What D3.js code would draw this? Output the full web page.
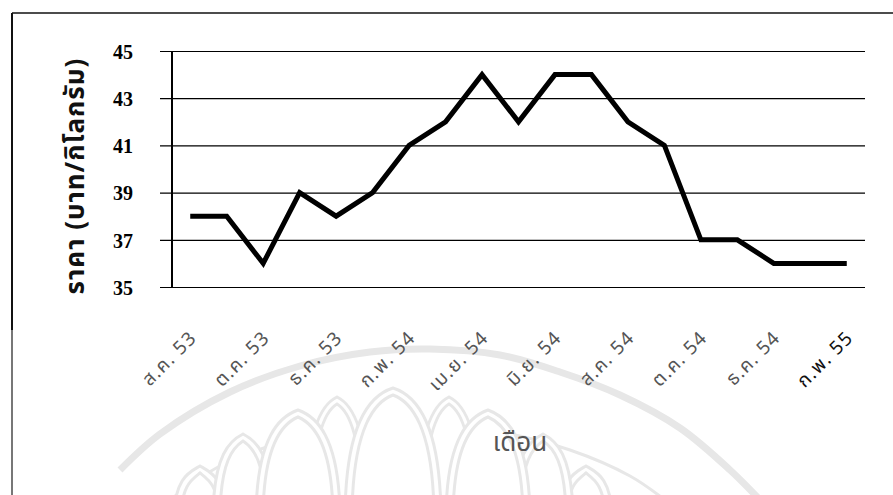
<!DOCTYPE html>
<html>
<head>
<meta charset="utf-8">
<script src="https://cdn.jsdelivr.net/npm/d3@7"></script>
<style>
  body { margin: 0; background: #fff; }
  svg { display: block; }
  .thai { font-family: "Noto Sans Thai", "Noto Sans", "DejaVu Sans", sans-serif; }
</style>
</head>
<body>
<svg id="chart" width="893" height="495"></svg>
<script>
// Monthly price, Aug 2010 (B.E. 2553) to Feb 2012 (B.E. 2555)
const months = [
    "ส.ค. 53", "ก.ย. 53", "ต.ค. 53", "พ.ย. 53", "ธ.ค. 53", "ม.ค. 54", "ก.พ. 54",
    "มี.ค. 54", "เม.ย. 54", "พ.ค. 54", "มิ.ย. 54", "ก.ค. 54", "ส.ค. 54", "ก.ย. 54",
    "ต.ค. 54", "พ.ย. 54", "ธ.ค. 54", "ม.ค. 55", "ก.พ. 55"
];
const prices = [38, 38, 36, 39, 38, 39, 41, 42, 44, 42, 44, 44, 42, 41, 37, 37, 36, 36, 36];
const yTicks = [35, 37, 39, 41, 43, 45];
const yTitle = "ราคา (บาท/กิโลกรัม)";
const xTitle = "เดือน";

const svg = d3.select("#chart");

// plot area
const plotLeft = 172, plotRight = 865, plotTop = 51, plotBottom = 287;

const x = d3.scalePoint()
    .domain(months)
    .range([plotLeft, plotRight])
    .padding(0.5);

const y = d3.scaleLinear()
    .domain([35, 45])
    .range([plotBottom, plotTop]);

// faint watermark (university seal) behind everything
function drawWatermark() {
    const wm = svg.append("g")
        .attr("fill", "none")
        .attr("stroke", "#e7e7e7");

    const arch = d3.line().curve(d3.curveCatmullRom);

    // outer bands
    wm.append("path")
        .attr("stroke-width", 7)
        .attr("d", arch([[120, 470], [160, 434], [230, 392], [300, 366], [370, 352], [430, 349],
                         [500, 355], [560, 372], [620, 395], [680, 428], [730, 470], [760, 500]]));
    wm.append("path")
        .attr("stroke-width", 3)
        .attr("d", arch([[170, 500], [220, 466], [290, 440], [360, 428], [430, 426],
                         [500, 432], [570, 450], [630, 476], [665, 500]]));

    // lotus petals: apex x, apex y, half-width (back petals first)
    const petals = [
        [200, 466, 26], [586, 466, 26],
        [243, 434, 30], [543, 434, 30],
        [337, 397, 32], [449, 397, 32],
        [298, 410, 42], [488, 410, 42],
        [393, 388, 48]
    ];
    petals.forEach(([px, py, w]) => {
        [0, 7].forEach(off => {
            const h = 520 - py;
            const ww = w - off;
            const ay = py + off;
            wm.append("path")
                .attr("stroke-width", 3)
                .attr("fill", off === 0 ? "#fff" : "none")
                .attr("d", `M${px - ww},${py + h} C${px - ww},${ay + h * 0.22} ${px - ww * 0.4},${ay + 6} ${px},${ay}` +
                           ` C${px + ww * 0.4},${ay + 6} ${px + ww},${ay + h * 0.22} ${px + ww},${py + h}`);
        });
    });
}
drawWatermark();

// frame of the figure
svg.append("line")
    .attr("x1", 12).attr("x2", 893).attr("y1", 13).attr("y2", 13)
    .attr("stroke", "#111").attr("stroke-width", 1.5);
svg.append("line")
    .attr("x1", 12).attr("x2", 12).attr("y1", 13).attr("y2", 330)
    .attr("stroke", "#111").attr("stroke-width", 2);
svg.append("line")
    .attr("x1", 12).attr("x2", 12).attr("y1", 330).attr("y2", 495)
    .attr("stroke", "#777").attr("stroke-width", 2);

// horizontal gridlines + y tick labels
const yAxis = svg.append("g")
    .attr("transform", `translate(${plotRight},0)`)
    .call(d3.axisLeft(y)
        .tickValues(yTicks)
        .tickSize(plotRight - 160)
        .tickPadding(27)
        .tickFormat(d3.format("d")));
yAxis.select(".domain").remove();
yAxis.selectAll(".tick line")
    .attr("stroke", "#000")
    .attr("stroke-width", 1.2);
yAxis.selectAll(".tick text")
    .attr("fill", "#000")
    .attr("font-family", "'Liberation Serif', 'Times New Roman', serif")
    .attr("font-weight", "bold")
    .attr("font-size", 20)
    .attr("dy", "0.36em");

// vertical axis line
svg.append("line")
    .attr("x1", plotLeft).attr("x2", plotLeft)
    .attr("y1", y(45)).attr("y2", y(35))
    .attr("stroke", "#000").attr("stroke-width", 2);

// x axis labels, every second month
const xAxis = svg.append("g")
    .attr("transform", `translate(0,${plotBottom})`)
    .call(d3.axisBottom(x)
        .tickSize(0)
        .tickFormat((d, i) => i % 2 === 0 ? d : ""));
xAxis.select(".domain").remove();
xAxis.selectAll(".tick text")
    .attr("class", "thai")
    .attr("x", 0).attr("y", 0).attr("dy", 0)
    .attr("text-anchor", "end")
    .attr("transform", "translate(7,52) rotate(-45)")
    .attr("font-size", 19)
    .attr("letter-spacing", 1.2)
    .attr("fill", (d, i) => i === months.length - 1 ? "#111" : "#555");

// price line
svg.append("path")
    .datum(prices)
    .attr("fill", "none")
    .attr("stroke", "#000")
    .attr("stroke-width", 5)
    .attr("stroke-linejoin", "miter")
    .attr("d", d3.line()
        .x((d, i) => x(months[i]))
        .y(d => y(d)));

// axis titles
svg.append("text")
    .attr("class", "thai")
    .attr("transform", "translate(84,176) rotate(-90)")
    .attr("text-anchor", "middle")
    .attr("font-size", 26)
    .attr("font-weight", "bold")
    .attr("letter-spacing", 1)
    .attr("fill", "#111")
    .text(yTitle);

svg.append("text")
    .attr("class", "thai")
    .attr("x", 520)
    .attr("y", 451)
    .attr("text-anchor", "middle")
    .attr("font-size", 26)
    .attr("fill", "#555")
    .text(xTitle);
</script>
</body>
</html>
